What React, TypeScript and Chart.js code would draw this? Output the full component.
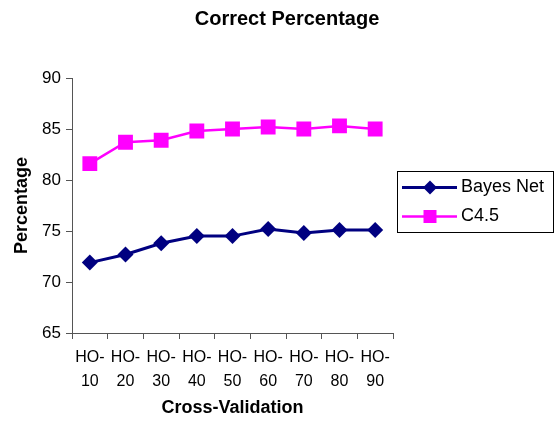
import React, { useEffect, useRef } from "react";
import { Chart, registerables } from "chart.js";

Chart.register(...registerables);

const categories: string[][] = [
  ["HO-", "10"], ["HO-", "20"], ["HO-", "30"], ["HO-", "40"], ["HO-", "50"],
  ["HO-", "60"], ["HO-", "70"], ["HO-", "80"], ["HO-", "90"],
];
const bayesNet: number[] = [71.9, 72.7, 73.8, 74.5, 74.5, 75.2, 74.8, 75.1, 75.1];
const c45: number[] = [81.6, 83.7, 83.9, 84.8, 85.0, 85.2, 85.0, 85.3, 85.0];
const seriesNames = ["Bayes Net", "C4.5"];
const seriesColors = ["#000080", "#FF00FF"];
const chartTitle = "Correct Percentage";
const xTitle = "Cross-Validation";
const yTitle = "Percentage";

const FONT = "'Liberation Sans', Arial, sans-serif";

const decorPlugin = {
  id: "decor",
  afterDraw(chart: any) {
    const ctx = chart.ctx;
    const area = chart.chartArea;
    ctx.save();
    ctx.fillStyle = "#000";
    ctx.textBaseline = "middle";
    ctx.textAlign = "center";
    ctx.font = `bold 20px ${FONT}`;
    ctx.fillText(chartTitle, 287, 19);
    ctx.font = `bold 18px ${FONT}`;
    ctx.fillText(xTitle, (area.left + area.right) / 2, 408);
    ctx.save();
    ctx.translate(22, (area.top + area.bottom) / 2);
    ctx.rotate(-Math.PI / 2);
    ctx.fillText(yTitle, 0, 0);
    ctx.restore();

    // legend
    const bx = 397.5, by = 171.5, bw = 156, bh = 61;
    ctx.strokeStyle = "#000";
    ctx.lineWidth = 1;
    ctx.strokeRect(bx, by, bw, bh);
    const rows = [187.5, 216.5];
    chart.data.datasets.forEach((ds: any, i: number) => {
      const y = rows[i];
      ctx.strokeStyle = ds.borderColor;
      ctx.lineWidth = ds.borderWidth;
      ctx.beginPath();
      ctx.moveTo(402, y);
      ctx.lineTo(457, y);
      ctx.stroke();
      ctx.fillStyle = ds.backgroundColor;
      ctx.beginPath();
      if (ds.pointStyle === "rectRot") {
        const r = 7;
        ctx.moveTo(430, y - r);
        ctx.lineTo(430 + r, y);
        ctx.lineTo(430, y + r);
        ctx.lineTo(430 - r, y);
        ctx.closePath();
      } else {
        const s = 6.5;
        ctx.rect(430 - s, y - s, 2 * s, 2 * s);
      }
      ctx.fill();
      ctx.fillStyle = "#000";
      ctx.textAlign = "left";
      ctx.font = `18px ${FONT}`;
      ctx.fillText(ds.label, 461, y);
    });
    ctx.restore();
  },
};

export default function App() {
  const ref = useRef<HTMLCanvasElement | null>(null);
  useEffect(() => {
    if (!ref.current) return;
    const chart = new Chart(ref.current, {
      type: "line",
      data: {
        labels: categories as any,
        datasets: [
          {
            label: seriesNames[0],
            data: bayesNet,
            borderColor: seriesColors[0],
            backgroundColor: seriesColors[0],
            borderWidth: 3,
            pointStyle: "rectRot",
            pointRadius: 8,
            pointBorderWidth: 0,
            pointHoverRadius: 8,
            tension: 0,
          },
          {
            label: seriesNames[1],
            data: c45,
            borderColor: seriesColors[1],
            backgroundColor: seriesColors[1],
            borderWidth: 2.5,
            pointStyle: "rect",
            pointRadius: 10.5,
            pointBorderWidth: 0,
            pointHoverRadius: 10.5,
            tension: 0,
          },
        ],
      },
      options: {
        responsive: false,
        animation: false,
        layout: { padding: { top: 78, right: 161, left: 0, bottom: 0 } },
        plugins: {
          legend: { display: false },
          title: { display: false },
          tooltip: { enabled: false },
        },
        scales: {
          x: {
            type: "category",
            offset: true,
            grid: {
              offset: true,
              drawOnChartArea: false,
              drawTicks: true,
              tickLength: 6,
              color: "#555",
            },
            border: { color: "#555", width: 1 },
            ticks: {
              color: "#000",
              font: { family: FONT, size: 16, lineHeight: 1.5 },
              padding: 7,
              maxRotation: 0,
              autoSkip: false,
            },
            afterFit: (s: any) => { s.height = 88; },
          },
          y: {
            min: 65,
            max: 90,
            grid: {
              drawOnChartArea: false,
              drawTicks: true,
              tickLength: 6,
              color: "#555",
            },
            border: { color: "#555", width: 1 },
            ticks: {
              stepSize: 5,
              color: "#000",
              font: { family: FONT, size: 17 },
              padding: 5,
            },
            afterFit: (s: any) => { s.width = 72; },
          },
        },
      },
      plugins: [decorPlugin],
    });
    return () => chart.destroy();
  }, []);
  return (
    <div style={{ position: "fixed", left: 0, top: 0, width: 554, height: 421, background: "#fff" }}>
      <canvas ref={ref} width={554} height={421} />
    </div>
  );
}
